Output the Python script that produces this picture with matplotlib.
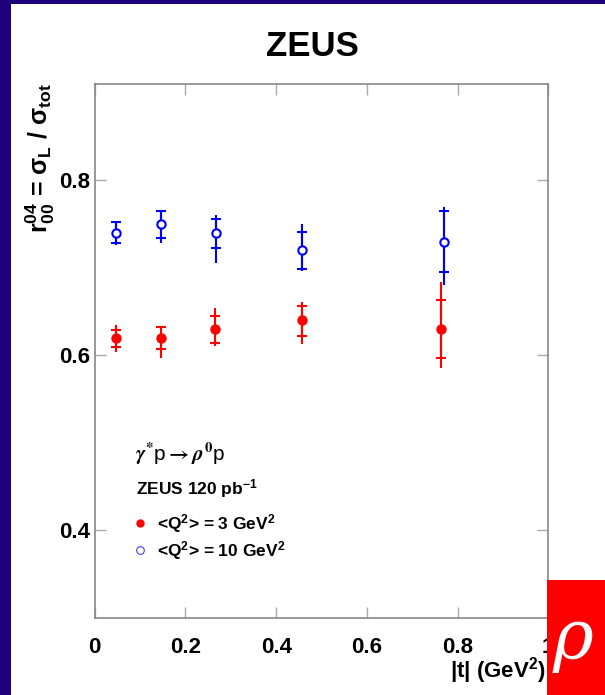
import matplotlib
matplotlib.use("Agg")
import matplotlib.pyplot as plt
from matplotlib.lines import Line2D
from matplotlib.patches import Rectangle
from matplotlib import rcParams

rcParams.update({
    "font.family": ["Liberation Sans", "DejaVu Sans"],
    "font.weight": "bold",
    "mathtext.fontset": "custom",
    "mathtext.rm": "Liberation Sans:bold",
    "mathtext.bf": "Liberation Sans:bold",
    "mathtext.it": "Liberation Sans:bold",
})

# <Q^2> = 3 GeV^2
t_q3 = [0.046, 0.146, 0.266, 0.457, 0.763]
r_q3 = [0.620, 0.620, 0.630, 0.640, 0.630]
stat_up_q3 = [0.009, 0.013, 0.015, 0.017, 0.033]
stat_dn_q3 = [0.010, 0.013, 0.016, 0.018, 0.033]
tot_up_q3 = [0.015, 0.013, 0.024, 0.021, 0.054]
tot_dn_q3 = [0.016, 0.023, 0.019, 0.027, 0.045]

# <Q^2> = 10 GeV^2
t_q10 = [0.046, 0.146, 0.267, 0.457, 0.770]
r_q10 = [0.740, 0.750, 0.740, 0.720, 0.730]
stat_up_q10 = [0.012, 0.015, 0.016, 0.021, 0.035]
stat_dn_q10 = [0.012, 0.016, 0.017, 0.021, 0.035]
tot_up_q10 = [0.013, 0.016, 0.021, 0.030, 0.040]
tot_dn_q10 = [0.014, 0.021, 0.034, 0.024, 0.050]

xticks = [0, 0.2, 0.4, 0.6, 0.8, 1]
xtick_labels = ["0", "0.2", "0.4", "0.6", "0.8", "1"]
yticks = [0.4, 0.6, 0.8]

W, H = 605, 695
fig = plt.figure(figsize=(6.05, 6.95), dpi=100)
fig.patch.set_facecolor("#1f007d")
# white page inside the dark frame
fig.add_artist(Rectangle((11 / W, 0), 1 - 11 / W, 1 - 4 / H, transform=fig.transFigure,
                         facecolor="white", edgecolor="none", zorder=0))

ax = fig.add_axes([94.7 / W, 1 - 617.7 / H, (548.3 - 94.7) / W, (617.7 - 84.3) / H])

# total errors (plain line), then statistical errors with crossbars
ax.errorbar(t_q3, r_q3, yerr=[tot_dn_q3, tot_up_q3], fmt="none", ecolor="red", elinewidth=1.5)
ax.errorbar(t_q3, r_q3, yerr=[stat_dn_q3, stat_up_q3], fmt="none", ecolor="red", elinewidth=1.5,
            capsize=3.4, capthick=1.5)
ax.plot(t_q3, r_q3, "o", color="red", markersize=6.5, zorder=5)

ax.errorbar(t_q10, r_q10, yerr=[tot_dn_q10, tot_up_q10], fmt="none", ecolor="blue", elinewidth=1.5)
ax.errorbar(t_q10, r_q10, yerr=[stat_dn_q10, stat_up_q10], fmt="none", ecolor="blue", elinewidth=1.5,
            capsize=3.4, capthick=1.5)
ax.plot(t_q10, r_q10, "o", color="blue", markerfacecolor="white", markersize=6,
        markeredgewidth=1.5, zorder=5)

ax.set_xlim(0, 1)
ax.set_ylim(0.3, 0.91)
ax.set_xticks(xticks)
ax.set_xticklabels(xtick_labels)
ax.set_yticks(yticks)
ax.tick_params(direction="in", length=8, width=1.0, color="#aaaaaa", top=True, right=True,
               labelsize=16)
ax.tick_params(axis="x", pad=14)
ax.tick_params(axis="y", pad=3)
for s in ax.spines.values():
    s.set_color("#888888")
    s.set_linewidth(1.2)

# legend block
ax.text(135 / W, 1 - 454 / H, r"$\gamma^{*}$p$\rightarrow\rho^{0}$p", transform=fig.transFigure,
        fontsize=15, fontweight="normal", va="center", ha="left", math_fontfamily="stix")
ax.text(136 / W, 1 - 489 / H, r"ZEUS 120 pb$^{-1}$", transform=fig.transFigure,
        fontsize=12.5, va="center", ha="left")
handles = [
    Line2D([], [], ls="none", marker="o", color="red", markersize=5),
    Line2D([], [], ls="none", marker="o", color="#4040ff", markerfacecolor="white",
           markersize=5.5, markeredgewidth=0.8),
]
labels = [r"<Q$^{2}$> = 3 GeV$^{2}$", r"<Q$^{2}$> = 10 GeV$^{2}$"]
leg = ax.legend(handles, labels, loc="upper left", bbox_to_anchor=(124 / W, 1 - 503 / H),
                bbox_transform=fig.transFigure, frameon=False, handlelength=0.8,
                handletextpad=0.6, labelspacing=0.25, borderpad=0,
                prop={"size": 12.5, "weight": "bold"})

fig.text(312.5 / W, 1 - 46 / H, "ZEUS", fontsize=25, fontweight="bold", ha="center", va="center")
fig.text(40 / W, 1 - 158 / H, r"r$^{04}_{00}$ = σ$_{L}$ / σ$_{tot}$", rotation=90,
         fontsize=18, fontweight="bold", ha="center", va="center")
fig.text(546 / W, 1 - 671 / H, r"|t| (GeV$^{2}$)", fontsize=16, fontweight="bold",
         ha="right", va="center")

# partially visible logo in the corner
fig.add_artist(Rectangle((546.7 / W, 0), 1 - 546.7 / W, (H - 580) / H, transform=fig.transFigure,
                         facecolor="red", edgecolor="none", zorder=3))
fig.text(553 / W, 1 - 640 / H, "ρ", color="white", fontsize=50, fontstyle="italic",
         fontweight="normal", family="DejaVu Serif", ha="left", va="center", zorder=4)

fig.savefig("out.png", dpi=100, facecolor=fig.get_facecolor())
